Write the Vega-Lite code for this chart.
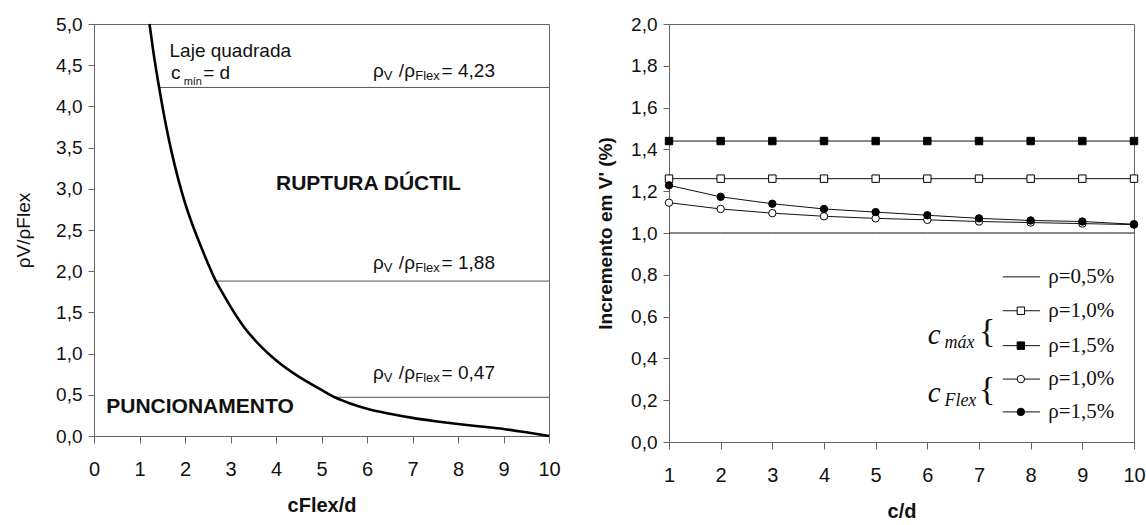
{
  "$schema": "https://vega.github.io/schema/vega-lite/v6.json",
  "background": "white",
  "padding": {"left": 14, "top": 14, "right": 5, "bottom": 0},
  "spacing": 35,
  "config": {
    "view": {"stroke": "#666", "strokeWidth": 1},
    "font": "Liberation Sans",
    "axis": {
      "grid": false,
      "domainColor": "#666",
      "tickColor": "#666",
      "labelColor": "#111",
      "titleColor": "#111",
      "labelFont": "Liberation Sans",
      "titleFont": "Liberation Sans",
      "labelFontSize": 19,
      "tickSize": 6,
      "labelFlush": false,
      "labelOverlap": false
    }
  },
  "datasets": {
    "curve": [
      {"x": 1.22, "y": 5.0}, {"x": 1.3, "y": 4.68}, {"x": 1.4, "y": 4.33}, {"x": 1.5, "y": 4.01},
      {"x": 1.6, "y": 3.72}, {"x": 1.7, "y": 3.46}, {"x": 1.85, "y": 3.12}, {"x": 2.0, "y": 2.83},
      {"x": 2.14, "y": 2.6}, {"x": 2.3, "y": 2.37}, {"x": 2.5, "y": 2.1}, {"x": 2.66, "y": 1.9},
      {"x": 2.8, "y": 1.76}, {"x": 3.0, "y": 1.57}, {"x": 3.3, "y": 1.32}, {"x": 3.7, "y": 1.07},
      {"x": 4.0, "y": 0.92}, {"x": 4.5, "y": 0.72}, {"x": 5.0, "y": 0.56}, {"x": 5.25, "y": 0.48},
      {"x": 5.6, "y": 0.4}, {"x": 6.0, "y": 0.33}, {"x": 6.5, "y": 0.27}, {"x": 7.0, "y": 0.22},
      {"x": 7.5, "y": 0.18}, {"x": 8.0, "y": 0.145}, {"x": 8.5, "y": 0.115}, {"x": 9.0, "y": 0.085},
      {"x": 9.5, "y": 0.045}, {"x": 10.0, "y": 0.0}
    ],
    "hl": [
      {"x": 1.42, "x2": 10, "y": 4.23},
      {"x": 2.68, "x2": 10, "y": 1.88},
      {"x": 5.28, "x2": 10, "y": 0.47}
    ],
    "rho": [
      {"y": 4.36, "val": "= 4,23"},
      {"y": 2.03, "val": "= 1,88"},
      {"y": 0.69, "val": "= 0,47"}
    ],
    "bold": [
      {"x": 4.0, "y": 2.99, "t": "RUPTURA DÚCTIL"},
      {"x": 0.27, "y": 0.28, "t": "PUNCIONAMENTO"}
    ],
    "series": [
      {"s": "p05", "m": "none", "c": 1, "v": 1.0}, {"s": "p05", "m": "none", "c": 2, "v": 1.0},
      {"s": "p05", "m": "none", "c": 3, "v": 1.0}, {"s": "p05", "m": "none", "c": 4, "v": 1.0},
      {"s": "p05", "m": "none", "c": 5, "v": 1.0}, {"s": "p05", "m": "none", "c": 6, "v": 1.0},
      {"s": "p05", "m": "none", "c": 7, "v": 1.0}, {"s": "p05", "m": "none", "c": 8, "v": 1.0},
      {"s": "p05", "m": "none", "c": 9, "v": 1.0}, {"s": "p05", "m": "none", "c": 10, "v": 1.0},
      {"s": "mx10", "m": "sqo", "c": 1, "v": 1.26}, {"s": "mx10", "m": "sqo", "c": 2, "v": 1.26},
      {"s": "mx10", "m": "sqo", "c": 3, "v": 1.26}, {"s": "mx10", "m": "sqo", "c": 4, "v": 1.26},
      {"s": "mx10", "m": "sqo", "c": 5, "v": 1.26}, {"s": "mx10", "m": "sqo", "c": 6, "v": 1.26},
      {"s": "mx10", "m": "sqo", "c": 7, "v": 1.26}, {"s": "mx10", "m": "sqo", "c": 8, "v": 1.26},
      {"s": "mx10", "m": "sqo", "c": 9, "v": 1.26}, {"s": "mx10", "m": "sqo", "c": 10, "v": 1.26},
      {"s": "mx15", "m": "sqf", "c": 1, "v": 1.44}, {"s": "mx15", "m": "sqf", "c": 2, "v": 1.44},
      {"s": "mx15", "m": "sqf", "c": 3, "v": 1.44}, {"s": "mx15", "m": "sqf", "c": 4, "v": 1.44},
      {"s": "mx15", "m": "sqf", "c": 5, "v": 1.44}, {"s": "mx15", "m": "sqf", "c": 6, "v": 1.44},
      {"s": "mx15", "m": "sqf", "c": 7, "v": 1.44}, {"s": "mx15", "m": "sqf", "c": 8, "v": 1.44},
      {"s": "mx15", "m": "sqf", "c": 9, "v": 1.44}, {"s": "mx15", "m": "sqf", "c": 10, "v": 1.44},
      {"s": "fl10", "m": "cio", "c": 1, "v": 1.145}, {"s": "fl10", "m": "cio", "c": 2, "v": 1.115},
      {"s": "fl10", "m": "cio", "c": 3, "v": 1.095}, {"s": "fl10", "m": "cio", "c": 4, "v": 1.08},
      {"s": "fl10", "m": "cio", "c": 5, "v": 1.07}, {"s": "fl10", "m": "cio", "c": 6, "v": 1.063},
      {"s": "fl10", "m": "cio", "c": 7, "v": 1.055}, {"s": "fl10", "m": "cio", "c": 8, "v": 1.05},
      {"s": "fl10", "m": "cio", "c": 9, "v": 1.045}, {"s": "fl10", "m": "cio", "c": 10, "v": 1.04},
      {"s": "fl15", "m": "cif", "c": 1, "v": 1.228}, {"s": "fl15", "m": "cif", "c": 2, "v": 1.173},
      {"s": "fl15", "m": "cif", "c": 3, "v": 1.14}, {"s": "fl15", "m": "cif", "c": 4, "v": 1.115},
      {"s": "fl15", "m": "cif", "c": 5, "v": 1.1}, {"s": "fl15", "m": "cif", "c": 6, "v": 1.085},
      {"s": "fl15", "m": "cif", "c": 7, "v": 1.07}, {"s": "fl15", "m": "cif", "c": 8, "v": 1.06},
      {"s": "fl15", "m": "cif", "c": 9, "v": 1.055}, {"s": "fl15", "m": "cif", "c": 10, "v": 1.042}
    ],
    "leg": [
      {"y": 0.79, "m": "none", "label": "ρ=0,5%"},
      {"y": 0.628, "m": "sqo", "label": "ρ=1,0%"},
      {"y": 0.461, "m": "sqf", "label": "ρ=1,5%"},
      {"y": 0.301, "m": "cio", "label": "ρ=1,0%"},
      {"y": 0.144, "m": "cif", "label": "ρ=1,5%"}
    ],
    "brace": [
      {"y": 0.469, "sub": "máx"},
      {"y": 0.191, "sub": "Flex"}
    ]
  },
  "hconcat": [
    {
      "width": 455,
      "height": 412,
      "layer": [
        {
          "data": {"name": "hl"},
          "mark": {"type": "rule", "color": "#555", "strokeWidth": 1},
          "encoding": {
            "x": {"field": "x", "type": "quantitative", "scale": {"domain": [0, 10], "nice": false},
              "axis": {"values": [0,1,2,3,4,5,6,7,8,9,10], "title": "cFlex/d", "titleFontSize": 20, "titleFontWeight": "bold", "titlePadding": 16, "labelFontSize": 20, "labelPadding": 16, "tickSize": 7}},
            "x2": {"field": "x2"},
            "y": {"field": "y", "type": "quantitative", "scale": {"domain": [0, 5], "nice": false},
              "axis": {"values": [0,0.5,1,1.5,2,2.5,3,3.5,4,4.5,5], "labelExpr": "replace(format(datum.value, '.1f'), '.', ',')", "title": "ρV/ρFlex", "titleFontSize": 19, "titleFontWeight": "normal", "titlePadding": 22, "labelPadding": 6}}
          }
        },
        {
          "data": {"name": "curve"},
          "mark": {"type": "line", "color": "black", "strokeWidth": 2.6, "interpolate": "monotone"},
          "encoding": {
            "x": {"field": "x", "type": "quantitative"},
            "y": {"field": "y", "type": "quantitative"}
          }
        },
        {
          "data": {"values": [{"t": "Laje quadrada"}]},
          "mark": {"type": "text", "align": "left", "baseline": "alphabetic", "fontSize": 19, "color": "#111"},
          "encoding": {"x": {"datum": 1.66}, "y": {"datum": 4.6}, "text": {"field": "t"}}
        },
        {
          "data": {"values": [{"t": "c", "x": 1.69}, {"t": "= d", "x": 2.4}]},
          "mark": {"type": "text", "align": "left", "baseline": "alphabetic", "fontSize": 19, "color": "#111"},
          "encoding": {"x": {"field": "x", "type": "quantitative"}, "y": {"datum": 4.33}, "text": {"field": "t"}}
        },
        {
          "data": {"values": [{"t": "mín"}]},
          "mark": {"type": "text", "align": "left", "baseline": "alphabetic", "fontSize": 11, "color": "#111"},
          "encoding": {"x": {"datum": 1.97}, "y": {"datum": 4.26}, "text": {"field": "t"}}
        },
        {
          "data": {"name": "rho"},
          "mark": {"type": "text", "align": "left", "baseline": "alphabetic", "fontSize": 19, "color": "#111"},
          "encoding": {"x": {"datum": 6.13}, "y": {"field": "y", "type": "quantitative"}, "text": {"value": "ρ"}}
        },
        {
          "data": {"name": "rho"},
          "mark": {"type": "text", "align": "left", "baseline": "alphabetic", "fontSize": 13, "dy": 3, "color": "#111"},
          "encoding": {"x": {"datum": 6.37}, "y": {"field": "y", "type": "quantitative"}, "text": {"value": "V"}}
        },
        {
          "data": {"name": "rho"},
          "mark": {"type": "text", "align": "left", "baseline": "alphabetic", "fontSize": 19, "color": "#111"},
          "encoding": {"x": {"datum": 6.7}, "y": {"field": "y", "type": "quantitative"}, "text": {"value": "/ρ"}}
        },
        {
          "data": {"name": "rho"},
          "mark": {"type": "text", "align": "left", "baseline": "alphabetic", "fontSize": 13, "dy": 3, "color": "#111"},
          "encoding": {"x": {"datum": 7.06}, "y": {"field": "y", "type": "quantitative"}, "text": {"value": "Flex"}}
        },
        {
          "data": {"name": "rho"},
          "mark": {"type": "text", "align": "left", "baseline": "alphabetic", "fontSize": 19, "color": "#111"},
          "encoding": {"x": {"datum": 7.64}, "y": {"field": "y", "type": "quantitative"}, "text": {"field": "val"}}
        },
        {
          "data": {"name": "bold"},
          "mark": {"type": "text", "align": "left", "baseline": "alphabetic", "fontSize": 21, "fontWeight": "bold", "color": "#111"},
          "encoding": {"x": {"field": "x", "type": "quantitative"}, "y": {"field": "y", "type": "quantitative"}, "text": {"field": "t"}}
        }
      ]
    },
    {
      "width": 465,
      "height": 418,
      "layer": [
        {
          "data": {"name": "series"},
          "mark": {"type": "line", "color": "#111", "strokeWidth": 1},
          "encoding": {
            "x": {"field": "c", "type": "quantitative", "scale": {"domain": [1, 10], "nice": false},
              "axis": {"values": [1,2,3,4,5,6,7,8,9,10], "title": "c/d", "titleFontSize": 20, "titleFontWeight": "bold", "titlePadding": 16, "labelFontSize": 20, "labelPadding": 16, "tickSize": 7}},
            "y": {"field": "v", "type": "quantitative", "scale": {"domain": [0, 2], "nice": false},
              "axis": {"values": [0,0.2,0.4,0.6,0.8,1,1.2,1.4,1.6,1.8,2], "labelExpr": "replace(format(datum.value, '.1f'), '.', ',')", "title": "Incremento em V' (%)", "titleFontSize": 19, "titleFontWeight": "bold", "titlePadding": 15, "labelPadding": 6}},
            "detail": {"field": "s"}
          }
        },
        {
          "data": {"name": "series"},
          "transform": [{"filter": "datum.m != 'none'"}],
          "mark": {"type": "point", "filled": true, "stroke": "black", "strokeWidth": 1, "opacity": 1, "fillOpacity": 1},
          "encoding": {
            "x": {"field": "c", "type": "quantitative"},
            "y": {"field": "v", "type": "quantitative"},
            "shape": {"field": "m", "type": "nominal", "scale": {"domain": ["sqo", "sqf", "cio", "cif"], "range": ["square", "square", "circle", "circle"]}, "legend": null},
            "fill": {"field": "m", "type": "nominal", "scale": {"domain": ["sqo", "sqf", "cio", "cif"], "range": ["white", "black", "white", "black"]}, "legend": null},
            "size": {"field": "m", "type": "nominal", "scale": {"domain": ["sqo", "sqf", "cio", "cif"], "range": [55, 55, 40, 40]}, "legend": null}
          }
        },
        {
          "data": {"name": "leg"},
          "mark": {"type": "rule", "color": "#111", "strokeWidth": 1},
          "encoding": {"x": {"datum": 7.46}, "x2": {"datum": 8.18}, "y": {"field": "y", "type": "quantitative"}}
        },
        {
          "data": {"name": "leg"},
          "transform": [{"filter": "datum.m != 'none'"}],
          "mark": {"type": "point", "filled": true, "stroke": "black", "strokeWidth": 1, "opacity": 1, "fillOpacity": 1},
          "encoding": {
            "x": {"datum": 7.81},
            "y": {"field": "y", "type": "quantitative"},
            "shape": {"field": "m", "type": "nominal", "legend": null},
            "fill": {"field": "m", "type": "nominal", "legend": null},
            "size": {"field": "m", "type": "nominal", "legend": null}
          }
        },
        {
          "data": {"name": "leg"},
          "mark": {"type": "text", "align": "left", "baseline": "middle", "font": "Liberation Serif", "fontSize": 21, "color": "#111"},
          "encoding": {"x": {"datum": 8.34}, "y": {"field": "y", "type": "quantitative"}, "text": {"field": "label"}}
        },
        {
          "data": {"name": "brace"},
          "mark": {"type": "text", "align": "left", "baseline": "alphabetic", "font": "Liberation Serif", "fontStyle": "italic", "fontSize": 29, "color": "#111"},
          "encoding": {"x": {"datum": 6.01}, "y": {"field": "y", "type": "quantitative"}, "text": {"value": "c"}}
        },
        {
          "data": {"name": "brace"},
          "mark": {"type": "text", "align": "left", "baseline": "alphabetic", "font": "Liberation Serif", "fontStyle": "italic", "fontSize": 18, "dy": 4, "color": "#111"},
          "encoding": {"x": {"datum": 6.33}, "y": {"field": "y", "type": "quantitative"}, "text": {"field": "sub"}}
        },
        {
          "data": {"name": "brace"},
          "mark": {"type": "text", "align": "left", "baseline": "middle", "font": "Liberation Serif", "fontSize": 34, "dy": -12, "color": "#111"},
          "encoding": {"x": {"datum": 7.0}, "y": {"field": "y", "type": "quantitative"}, "text": {"value": "{"}}
        }
      ]
    }
  ]
}
